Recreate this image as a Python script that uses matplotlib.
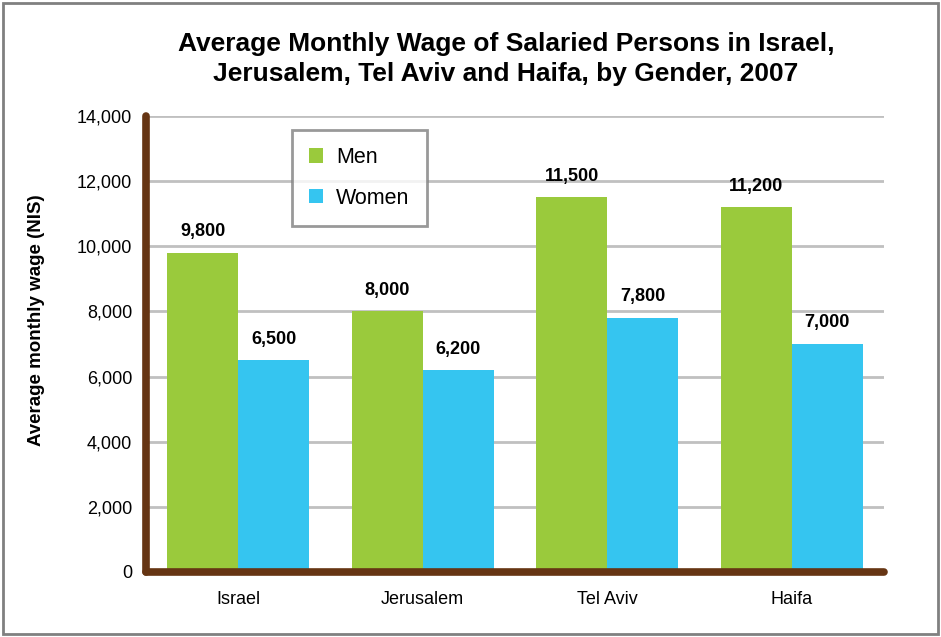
import numpy as np
import matplotlib.pyplot as plt
from matplotlib.patches import Rectangle

# ── Data ──────────────────────────────────────────────
cities = ['Israel', 'Jerusalem', 'Tel Aviv', 'Haifa']
men = [9800, 8000, 11500, 11200]
women = [6500, 6200, 7800, 7000]
yticks = [0, 2000, 4000, 6000, 8000, 10000, 12000, 14000]

GREEN = '#9ACA3C'
BLUE = '#35C5F0'
BROWN = '#663513'

plt.rcParams['font.family'] = ['Liberation Sans', 'DejaVu Sans']

fig = plt.figure(figsize=(9.41, 6.37), dpi=100)
fig.patches.append(Rectangle((0.003, 0.004), 0.994, 0.992, transform=fig.transFigure,
                             fill=False, edgecolor='#808080', lw=2))

ax = fig.add_axes([146 / 941, 1 - 572 / 637, (884 - 146) / 941, (572 - 116) / 637])

x = np.arange(len(cities))
w = 0.385
b1 = ax.bar(x - w / 2, men, w, color=GREEN, label='Men', zorder=3)
b2 = ax.bar(x + w / 2, women, w, color=BLUE, label='Women', zorder=3)

# value labels above bars
for bars, vals in ((b1, men), (b2, women)):
    for r, v in zip(bars, vals):
        ax.annotate(f'{v:,}', (r.get_x() + r.get_width() / 2, v),
                    xytext=(0, 9), textcoords='offset points',
                    ha='center', va='bottom', fontsize=13, fontweight='bold')

ax.set_xlim(-0.5, 3.5)
ax.set_ylim(0, 14000)
ax.set_yticks(yticks)
ax.set_yticklabels([f'{v:,}' for v in yticks], fontsize=13)
ax.set_xticks(x)
ax.set_xticklabels(cities, fontsize=13)
ax.tick_params(axis='both', length=0)
ax.tick_params(axis='x', pad=14)
ax.tick_params(axis='y', pad=10)

ax.grid(axis='y', color='#C0C0C0', lw=2, zorder=0)
for s in ('top', 'right'):
    ax.spines[s].set_visible(False)
for s in ('left', 'bottom'):
    ax.spines[s].set_color(BROWN)
    ax.spines[s].set_linewidth(5.5)
    ax.spines[s].set_capstyle('round')
    ax.spines[s].set_zorder(4)

ax.set_ylabel('Average monthly wage (NIS)', fontsize=13.5, fontweight='bold')
ax.yaxis.set_label_coords((45 - 146) / 738, (572 - 320) / 456)

fig.suptitle('Average Monthly Wage of Salaried Persons in Israel,\n'
             'Jerusalem, Tel Aviv and Haifa, by Gender, 2007',
             x=506 / 941, y=1 - 32 / 637, fontsize=19, fontweight='bold',
             linespacing=1.3, va='top')

leg = ax.legend(loc='upper left', bbox_to_anchor=((292 - 146) / 738, 1 - (130 - 116) / 456),
                fontsize=15.5, frameon=True, fancybox=False, handlelength=0.65,
                handleheight=0.65, labelspacing=0.9, borderpad=0.8, handletextpad=0.6,
                borderaxespad=0)
leg.get_frame().set_edgecolor('#808080')
leg.get_frame().set_linewidth(2)
leg.set_zorder(5)

fig.savefig('out.png', dpi=100)
